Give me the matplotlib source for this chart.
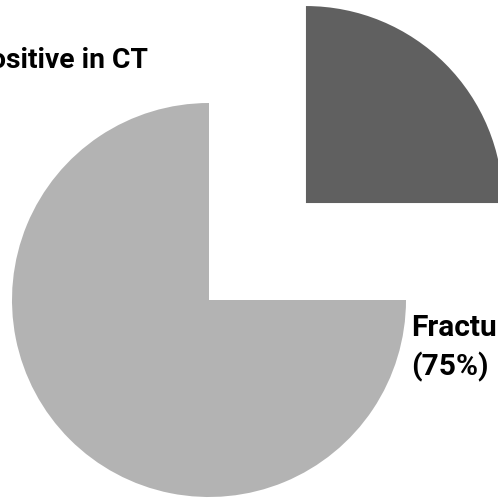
import matplotlib.pyplot as plt

# fracture share in CT findings
shares = [25, 75]
slice_colors = ["#606060", "#b3b3b3"]

W, H = 498, 501
cx, cy, r = 209, H - 300, 197
# pie() takes explode in data units, so scale by the radius
pulled = [0.696 * r, 0]

plt.rcParams['font.family'] = ['Roboto', 'Liberation Sans', 'DejaVu Sans']

fig = plt.figure(figsize=(W / 100, H / 100), dpi=100)
ax = fig.add_axes([0, 0, 1, 1])

ax.pie(shares, colors=slice_colors, explode=pulled, startangle=0,
       counterclock=True, center=(cx, cy), radius=r,
       wedgeprops=dict(linewidth=0))

ax.text(148, H - 68, "Positive in CT", ha='right', va='baseline',
        fontsize=20.3, fontweight='bold')
ax.text(411, H - 314, "Fracture\n(75%)", ha='left', va='top',
        fontsize=21.5, fontweight='bold', linespacing=1.42)

ax.set_xlim(0, W)
ax.set_ylim(0, H)
ax.set_aspect('equal')
ax.axis('off')

fig.savefig("out.png", dpi=100)
